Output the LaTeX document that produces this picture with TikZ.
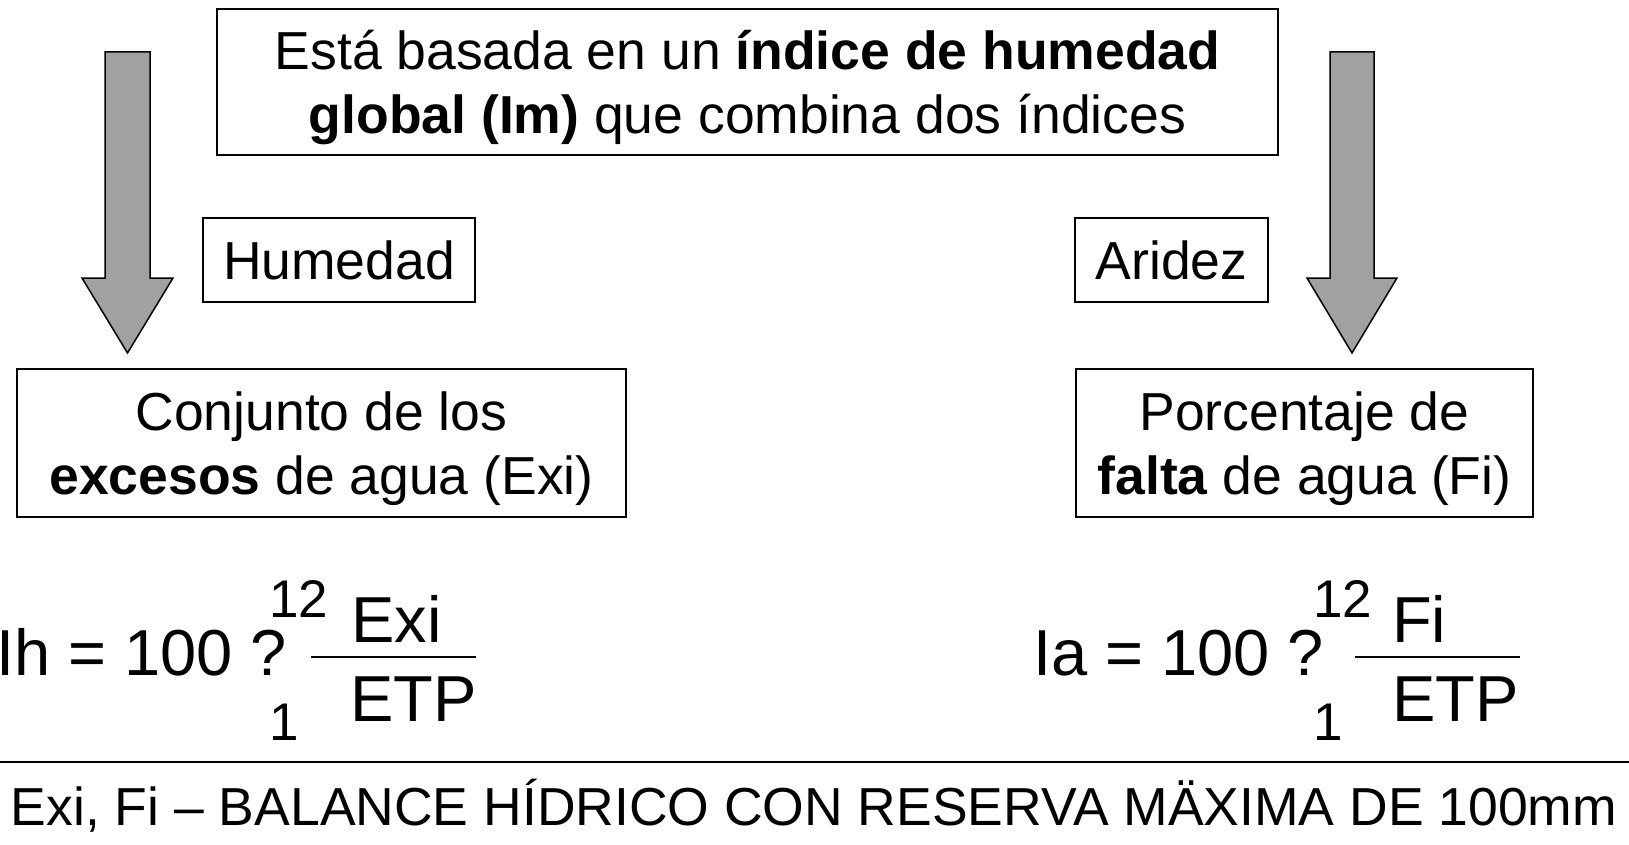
\documentclass[tikz,border=0pt]{standalone}
\usepackage{fontspec}
\setmainfont{Liberation Sans}
\begin{document}
\begin{tikzpicture}[x=1pt,y=-1pt,
    caja/.style={draw,line width=1.5pt,align=center,inner sep=0pt,text depth=0pt,font=\fontsize{53.5}{64}\selectfont},
    flecha/.style={draw,line width=1.5pt,fill=black!37},
    formula/.style={inner sep=0pt,anchor=base west,font=\fontsize{65}{78}\selectfont},
    limite/.style={inner sep=0pt,anchor=base west,font=\fontsize{53}{64}\selectfont}]
    \useasboundingbox (0,0) rectangle (1629,845);
    % cajas
    \node[caja,minimum width=1061pt,minimum height=146pt] (indice) at (747.5,82) {Está basada en un \textbf{índice de humedad}\\\textbf{global (Im)} que combina dos índices};
    \node[caja,minimum width=272pt,minimum height=84pt] (humedad) at (339,260) {Humedad};
    \node[caja,minimum width=193pt,minimum height=84pt] (aridez) at (1171.5,260) {Aridez};
    \node[caja,minimum width=609pt,minimum height=148pt] (excesos) at (321.5,443) {Conjunto de los\\\textbf{excesos} de agua (Exi)};
    \node[caja,minimum width=457pt,minimum height=148pt] (falta) at (1304.5,443) {Porcentaje de\\\textbf{falta} de agua (Fi)};
    % flechas
    \filldraw[flecha] (105,52) -- (150,52) -- (150,278) -- (173,278) -- (127.5,353) -- (82,278) -- (105,278) -- cycle;
    \filldraw[flecha] (1330,52) -- (1374,52) -- (1374,278) -- (1397,278) -- (1352,353) -- (1307,278) -- (1330,278) -- cycle;
    % formulas
    \node[formula] (ih) at (-4,675) {Ih = 100 ?};
    \node[limite] (ihsup) at (269,617) {12};
    \node[limite] (ihinf) at (269,740) {1};
    \node[formula] (exi) at (351,642) {Exi};
    \node[formula] (etpa) at (350,721) {ETP};
    \draw[line width=2.5pt] (311,657) -- (476,657);
    \node[formula] (ia) at (1033,675) {Ia = 100 ?};
    \node[limite] (iasup) at (1313,617) {12};
    \node[limite] (iainf) at (1313,740) {1};
    \node[formula] (fi) at (1392,642) {Fi};
    \node[formula] (etpb) at (1392,721) {ETP};
    \draw[line width=2.5pt] (1355,657) -- (1520,657);
    % pie
    \draw[line width=2.5pt] (0,762) -- (1629,762);
    \node[caja,draw=none,anchor=base] (balance) at (814,825) {Exi, Fi – BALANCE HÍDRICO CON RESERVA MÄXIMA DE 100mm};
\end{tikzpicture}
\end{document}
